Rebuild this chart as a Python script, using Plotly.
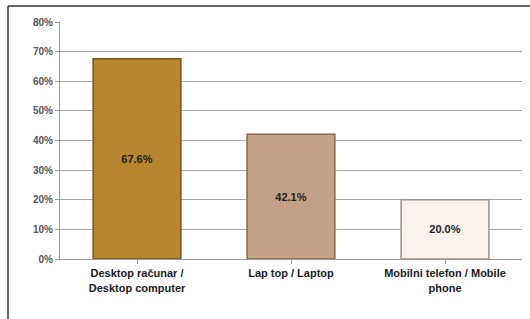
import plotly.graph_objects as go

categories = ["Desktop računar /<br>Desktop computer", "Lap top / Laptop", "Mobilni telefon / Mobile<br>phone"]
values = [67.6, 42.1, 20.0]
bar_colors = ["#B7842F", "#C4A087", "#FBF2EC"]
line_colors = ["#7A5418", "#8A6A55", "#9A928C"]
tick_vals = [0, 10, 20, 30, 40, 50, 60, 70, 80]
tick_text = [f"{v}%" for v in tick_vals]

PLOT_H = 319 - 22 - 60
PLOT_W = 530 - 60 - 8

fig = go.Figure()
fig.add_trace(go.Bar(
    x=categories, y=values,
    marker=dict(color=bar_colors, line=dict(color=line_colors, width=1.5)),
    width=0.57,
    text=[f"{v:.1f}%" for v in values],
    textposition="inside", insidetextanchor="middle",
    textfont=dict(family="Liberation Sans", size=11, color="#222222", weight="bold"),
    hoverinfo="skip",
))

fig.update_layout(
    width=530, height=319,
    margin=dict(l=60, r=8, t=22, b=60),
    paper_bgcolor="white", plot_bgcolor="white",
    showlegend=False,
    xaxis=dict(
        showline=True, linecolor="#9A9A9A", linewidth=1,
        ticks="outside", ticklen=4, tickcolor="#9A9A9A",
        tickfont=dict(family="Liberation Sans", size=11, color="#1A1A1A", weight="bold"),
        showgrid=False,
    ),
    yaxis=dict(
        range=[0, 80], tickvals=tick_vals, ticktext=tick_text,
        showline=True, linecolor="#9A9A9A", linewidth=1,
        ticks="outside", ticklen=4, tickcolor="#9A9A9A",
        showgrid=True, gridcolor="#A8A8A8", gridwidth=1,
        tickfont=dict(family="Liberation Sans", size=10, color="#555555", weight="bold"),
    ),
    shapes=[
        dict(type="line", xref="paper", yref="paper",
             x0=-52 / PLOT_W, x1=1 + 8 / PLOT_W,
             y0=1 + 16 / PLOT_H, y1=1 + 16 / PLOT_H,
             line=dict(color="#333333", width=1.5), layer="above"),
        dict(type="line", xref="paper", yref="paper",
             x0=-52 / PLOT_W, x1=-52 / PLOT_W,
             y0=1 + 16 / PLOT_H, y1=-60 / PLOT_H,
             line=dict(color="#333333", width=1.5), layer="above"),
    ],
)

fig.write_html(
    "out.html",
    config={"displayModeBar": False},
    post_script="document.body.style.margin='0';document.body.style.overflow='hidden';",
)
